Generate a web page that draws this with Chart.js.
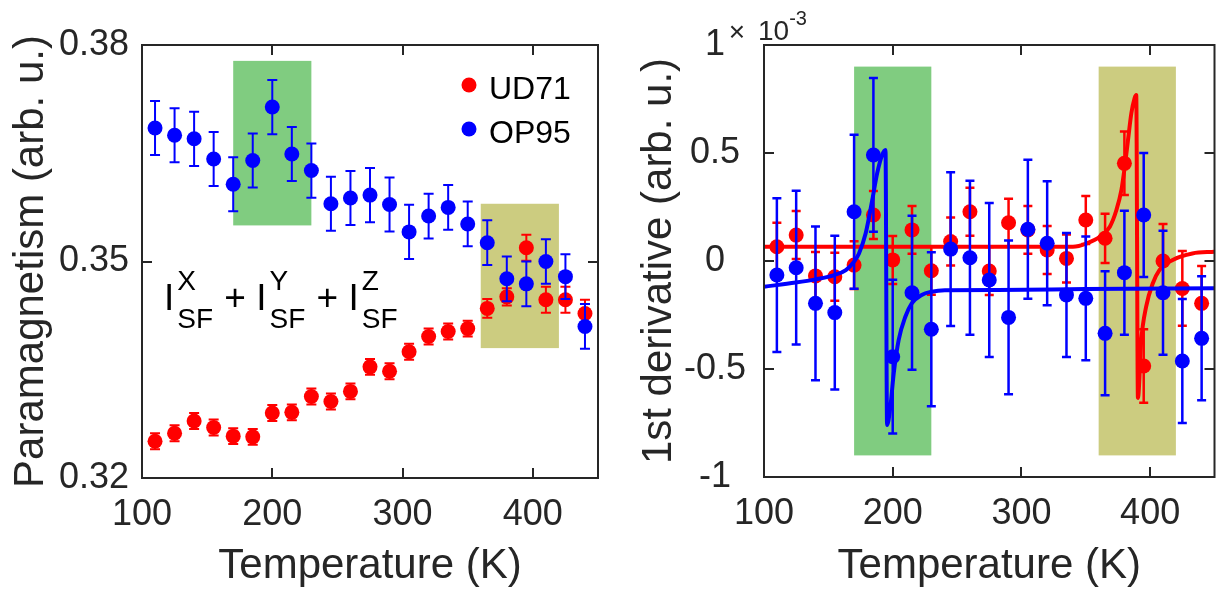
<!DOCTYPE html>
<html><head><meta charset="utf-8">
<script src="https://cdn.jsdelivr.net/npm/chart.js@4.4.1/dist/chart.umd.min.js"></script>
<style>
html,body{margin:0;padding:0;background:#fff;width:1222px;height:596px;overflow:hidden}
#c1{position:absolute;left:0;top:0}
#c2{position:absolute;left:620px;top:0}
</style></head><body>
<canvas id="c1" width="620" height="596"></canvas>
<canvas id="c2" width="602" height="596"></canvas>
<script>
// ---------------- data ----------------
const temperatures = [110,125,140,155,170,185,200,215,230,245,260,275,290,305,320,335,350,365,380,395,410,425,440];
const seriesNames = ['UD71','OP95'];

const ud71Para    = [0.3251,0.3262,0.3279,0.3270,0.3258,0.3257,0.3290,0.3291,0.3313,0.3306,0.3320,0.3354,0.3348,0.3375,0.3396,0.3403,0.3407,0.3435,0.3451,0.3519,0.3447,0.3447,0.3428];
const ud71ParaErr = [0.0011,0.0011,0.0011,0.0011,0.0011,0.0011,0.0011,0.0011,0.0011,0.0011,0.0011,0.0011,0.0011,0.0011,0.0011,0.0011,0.0011,0.0013,0.0012,0.0018,0.0018,0.0018,0.0019];
const op95Para    = [0.3685,0.3675,0.3670,0.3642,0.3607,0.3640,0.3714,0.3649,0.3626,0.3580,0.3588,0.3592,0.3579,0.3541,0.3563,0.3575,0.3552,0.3526,0.3476,0.3469,0.3500,0.3479,0.3410];
const op95ParaErr = [0.00375,0.00375,0.00375,0.00375,0.00375,0.00375,0.00375,0.00375,0.00375,0.00375,0.00375,0.00375,0.00375,0.00375,0.0031,0.0031,0.0031,0.0031,0.0031,0.0031,0.0031,0.0031,0.0031];

// first derivative, in units of 1e-3
const ud71Deriv    = [0.066,0.120,-0.069,-0.073,-0.019,0.213,0.005,0.144,-0.045,0.090,0.228,-0.046,0.177,0.144,0.051,0.012,0.190,0.105,0.452,-0.486,0.000,-0.127,-0.196];
const ud71DerivErr = [0.111,0.111,0.111,0.111,0.111,0.111,0.111,0.111,0.111,0.111,0.111,0.111,0.111,0.111,0.111,0.111,0.111,0.114,0.147,0.170,0.171,0.173,0.173];
const op95Deriv    = [-0.065,-0.031,-0.196,-0.239,0.228,0.491,-0.443,-0.147,-0.316,0.055,0.015,-0.088,-0.261,0.147,0.082,-0.157,-0.173,-0.335,-0.054,0.213,-0.147,-0.463,-0.358];
const op95DerivErr = [0.356,0.356,0.356,0.356,0.356,0.356,0.356,0.356,0.356,0.356,0.356,0.356,0.356,0.322,0.287,0.287,0.287,0.287,0.287,0.287,0.287,0.287,0.287];

// fitted curves
const ud71FitT = [100,340,350.8,361,368.7,373.8,377.7,380.3,382.8,385.4,387.9,389.2,390.5,393.1,396.9,402.1,407.2,417.5,432.8,450];
const ud71FitV = [0.066,0.066,0.082,0.113,0.159,0.236,0.329,0.437,0.560,0.684,0.753,0.768,-0.634,-0.366,-0.211,-0.103,-0.042,0.005,0.035,0.043];
const op95FitT = [100,124.6,140,154.6,163.6,170,173.8,179,184.1,187.9,191.8,194.4,195.6,198.2,200.8,204.6,209.8,214.8,222.5,230.2,240.5,281.5,350,450];
const op95FitV = [-0.119,-0.100,-0.085,-0.065,-0.042,-0.003,0.035,0.128,0.282,0.406,0.491,0.514,-0.759,-0.674,-0.520,-0.366,-0.258,-0.196,-0.157,-0.142,-0.135,-0.134,-0.130,-0.126];

// ticks
const xTicks = [100,200,300,400];
const paraTicks = [0.32,0.35,0.38];
const derivTicks = [-1,-0.5,0,0.5,1];

// shaded temperature windows
const boxT = [[170,230],[360,420]];
const paraBoxV = [[0.355,0.3778],[0.338,0.358]];
const derivBoxV = [[-0.9,0.9],[-0.9,0.9]];

// ---------------- style ----------------
const RED = '#ff0000', BLUE = '#0000ff';
const BOXC = ['rgb(128,204,128)','rgb(204,204,128)'];
const TXT = '#262626';
const FONT = "'Liberation Sans', Arial, Helvetica, sans-serif";
Chart.defaults.font.family = FONT;
Chart.defaults.color = TXT;

function makeDecor(boxV, extra, cap) {
  return {
    id: 'decor',
    beforeDatasetsDraw(chart) {
      const {ctx, scales:{x,y}} = chart;
      ctx.save();
      boxT.forEach((t,i)=>{
        const x0 = x.getPixelForValue(t[0]), x1 = x.getPixelForValue(t[1]);
        const y0 = y.getPixelForValue(boxV[i][1]), y1 = y.getPixelForValue(boxV[i][0]);
        ctx.fillStyle = BOXC[i];
        ctx.fillRect(x0, y0, x1-x0, y1-y0);
      });
      ctx.restore();
    },
    beforeDatasetDraw(chart, args) {
      const ds = chart.data.datasets[args.index];
      if (!ds.errors) return;
      const {ctx, scales:{x,y}} = chart;
      ctx.save();
      ctx.strokeStyle = ds.errColor; ctx.lineWidth = ds.errWidth;
      ds.data.forEach((p,i)=>{
        const e = ds.errors[i];
        const px = x.getPixelForValue(p.x);
        const yt = y.getPixelForValue(p.y+e), yb = y.getPixelForValue(p.y-e);
        ctx.beginPath();
        ctx.moveTo(px,yt); ctx.lineTo(px,yb);
        ctx.moveTo(px-cap,yt); ctx.lineTo(px+cap,yt);
        ctx.moveTo(px-cap,yb); ctx.lineTo(px+cap,yb);
        ctx.stroke();
      });
      ctx.restore();
    },
    afterDraw(chart) {
      const {ctx, chartArea:a, scales:{x,y}} = chart;
      ctx.save();
      ctx.strokeStyle = TXT; ctx.lineWidth = 2;
      ctx.strokeRect(a.left, a.top, a.right-a.left, a.bottom-a.top);
      const tl = 10;
      ctx.beginPath();
      x.ticks.forEach(t=>{
        const px = Math.round(x.getPixelForValue(t.value));
        ctx.moveTo(px,a.bottom); ctx.lineTo(px,a.bottom-tl);
        ctx.moveTo(px,a.top); ctx.lineTo(px,a.top+tl);
      });
      y.ticks.forEach(t=>{
        const py = Math.round(y.getPixelForValue(t.value));
        ctx.moveTo(a.left,py); ctx.lineTo(a.left+tl,py);
        ctx.moveTo(a.right,py); ctx.lineTo(a.right-tl,py);
      });
      ctx.stroke();
      extra(chart);
      ctx.restore();
    }
  };
}

function drawLeftExtra(chart) {
  const {ctx, chartArea:a} = chart;
  ctx.textAlign = 'left'; ctx.textBaseline = 'alphabetic';
  // legend
  const cols = [RED, BLUE];
  ctx.font = `32px ${FONT}`;
  seriesNames.forEach((name,i)=>{
    const cy = a.top + 40 + i*44;
    ctx.fillStyle = cols[i];
    ctx.beginPath(); ctx.arc(a.right-129, cy, 7.5, 0, 2*Math.PI); ctx.fill();
    ctx.fillStyle = '#000';
    ctx.fillText(name, a.right-109, cy+14);
  });
  // formula
  ctx.fillStyle = '#000';
  let xx = a.left + 22; const base = a.top + 265;
  ['X','Y','Z'].forEach((s,i)=>{
    ctx.font = `37px ${FONT}`; ctx.fillText('I', xx, base); xx += ctx.measureText('I').width + 3;
    ctx.font = `28px ${FONT}`; ctx.fillText(s, xx, base-20); ctx.fillText('SF', xx, base+18);
    xx += Math.max(ctx.measureText(s).width, ctx.measureText('SF').width) + 1;
    if (i < 2) { ctx.font = `37px ${FONT}`; ctx.fillText(' + ', xx, base); xx += ctx.measureText(' + ').width; }
  });
}

function drawRightExtra(chart) {
  const {ctx, chartArea:a} = chart;
  ctx.fillStyle = TXT; ctx.textBaseline = 'alphabetic';
  ctx.font = `28px ${FONT}`;
  ctx.textAlign = 'center'; ctx.fillText('\u00d7', a.left-27, 41);
  ctx.textAlign = 'left'; ctx.fillText('10', a.left-6, 40);
  const w = ctx.measureText('10').width;
  ctx.font = `20px ${FONT}`; ctx.fillText('-3', a.left-6+w, 25);
}

function xScaleCfg(h) {
  return {
    type:'linear', min:100, max:450,
    afterBuildTicks: s => { s.ticks = xTicks.map(v=>({value:v})); },
    afterFit: s => { s.height = h; },
    grid:{display:false, drawTicks:false}, border:{display:false},
    ticks:{font:{size:36}, padding:15, color:TXT, maxRotation:0, autoSkip:false, callback: v => String(v)},
    title:{display:true, text:'Temperature (K)', font:{size:42}, color:TXT, padding:{top:0,bottom:4}}
  };
}

function pts(vals){ return temperatures.map((t,i)=>({x:t, y:vals[i]})); }
function curve(ts, vs){ return ts.map((t,i)=>({x:t, y:vs[i]})); }

// ---------------- left chart ----------------
new Chart(document.getElementById('c1'), {
  type:'scatter',
  data:{datasets:[
    {label:seriesNames[0], data:pts(ud71Para), errors:ud71ParaErr, errColor:RED, errWidth:2,
     pointRadius:7.5, pointBackgroundColor:RED, pointBorderWidth:0, order:2},
    {label:seriesNames[1], data:pts(op95Para), errors:op95ParaErr, errColor:BLUE, errWidth:2,
     pointRadius:7.5, pointBackgroundColor:BLUE, pointBorderWidth:0, order:1}
  ]},
  options:{
    responsive:false, animation:false, events:[],
    layout:{padding:{left:0,right:22,top:45,bottom:0}},
    plugins:{legend:{display:false}, tooltip:{enabled:false}},
    scales:{
      x: xScaleCfg(118),
      y: {
        type:'linear', min:0.32, max:0.38,
        afterBuildTicks: s => { s.ticks = paraTicks.map(v=>({value:v})); },
        afterFit: s => { s.width = 142; },
        grid:{display:false, drawTicks:false}, border:{display:false},
        ticks:{font:{size:36}, padding:13, color:TXT, crossAlign:'near', callback: v => v.toFixed(2)},
        title:{display:true, text:'Paramagnetism (arb. u.)', font:{size:42}, color:TXT, padding:{top:6,bottom:0}}
      }
    }
  },
  plugins:[makeDecor(paraBoxV, drawLeftExtra, 5)]
});

// ---------------- right chart ----------------
new Chart(document.getElementById('c2'), {
  type:'scatter',
  data:{datasets:[
    {label:seriesNames[0], data:pts(ud71Deriv), errors:ud71DerivErr, errColor:RED, errWidth:2.5,
     pointRadius:7.5, pointBackgroundColor:RED, pointBorderWidth:0, order:4},
    {type:'line', label:seriesNames[0]+' fit', data:curve(ud71FitT, ud71FitV), borderColor:RED, borderWidth:4,
     pointRadius:0, fill:false, cubicInterpolationMode:'monotone', order:3},
    {label:seriesNames[1], data:pts(op95Deriv), errors:op95DerivErr, errColor:BLUE, errWidth:2.5,
     pointRadius:7.5, pointBackgroundColor:BLUE, pointBorderWidth:0, order:2},
    {type:'line', label:seriesNames[1]+' fit', data:curve(op95FitT, op95FitV), borderColor:BLUE, borderWidth:4,
     pointRadius:0, fill:false, cubicInterpolationMode:'monotone', order:1}
  ]},
  options:{
    responsive:false, animation:false, events:[],
    layout:{padding:{left:0,right:2,top:45,bottom:0}},
    plugins:{legend:{display:false}, tooltip:{enabled:false}},
    scales:{
      x: xScaleCfg(119),
      y: {
        type:'linear', min:-1, max:1,
        afterBuildTicks: s => { s.ticks = derivTicks.map(v=>({value:v})); },
        afterFit: s => { s.width = 144; },
        grid:{display:false, drawTicks:false}, border:{display:false},
        ticks:{font:{size:36}, padding:18, color:TXT, crossAlign:'center', callback: v => String(v)},
        title:{display:true, text:'1st derivative (arb. u.)', font:{size:42}, color:TXT, padding:{top:14,bottom:0}}
      }
    }
  },
  plugins:[makeDecor(derivBoxV, drawRightExtra, 4.5)]
});
</script>
</body></html>
